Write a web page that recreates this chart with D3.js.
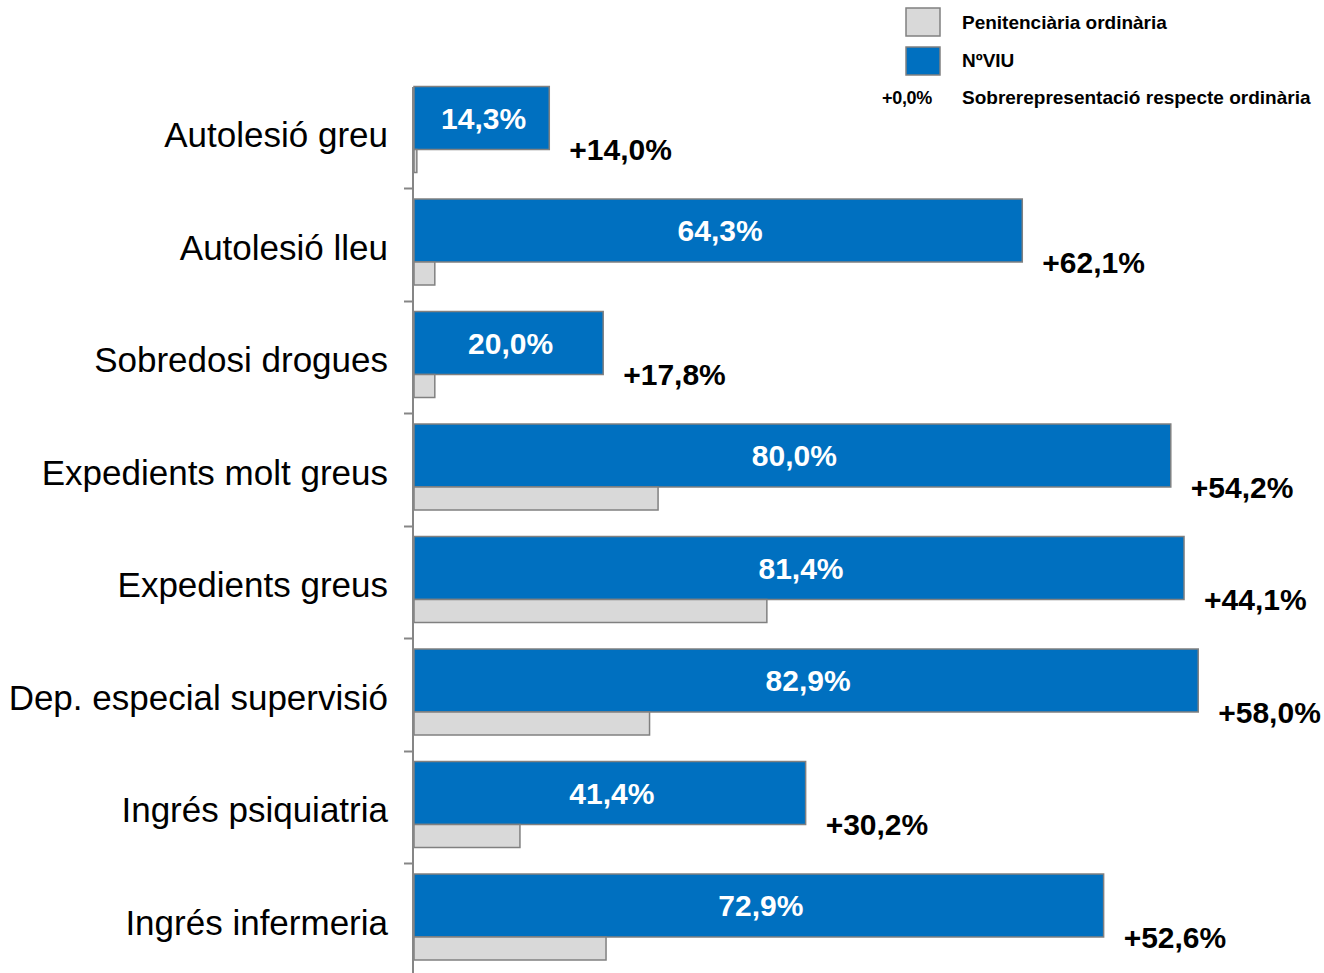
<!DOCTYPE html>
<html>
<head>
<meta charset="utf-8">
<script src="https://cdn.jsdelivr.net/npm/d3@7"></script>
<style>
  body { margin: 0; background: #fff; }
  svg { display: block; font-family: "Liberation Sans", Arial, sans-serif; }
</style>
</head>
<body>
<div id="chart"></div>
<script>
// data
const categories = ["Autolesió greu", "Autolesió lleu", "Sobredosi drogues", "Expedients molt greus",
  "Expedients greus", "Dep. especial supervisió", "Ingrés psiquiatria", "Ingrés infermeria"]
const nviu = [14.3, 64.3, 20.0, 80.0, 81.4, 82.9, 41.4, 72.9]
const ordinaria = [0.3, 2.2, 2.2, 25.8, 37.3, 24.9, 11.2, 20.3]
const diff = [14.0, 62.1, 17.8, 54.2, 44.1, 58.0, 30.2, 52.6]

const blue = "#0070c0"
const grey = "#d9d9d9"
const edge = "#808080"

const width = 1324, height = 973
const fmt = v => d3.format(".1f")(v).replace(".", ",")

const rows = categories.map((c, i) => ({cat: c, nviu: nviu[i], ord: ordinaria[i], diff: diff[i]}))

const svg = d3.select("#chart").append("svg").attr("width", width).attr("height", height)

const x = d3.scaleLinear().domain([0, 100]).range([414, 1360])
const y = d3.scaleBand().domain(categories).range([75.5, 975.5])

// blue bars (NºVIU)
svg.append("g").selectAll("rect").data(rows).join("rect")
  .attr("x", x(0))
  .attr("y", d => y(d.cat) + 11)
  .attr("width", d => x(d.nviu) - x(0))
  .attr("height", 63)
  .attr("fill", blue)
  .attr("stroke", edge)
  .attr("stroke-width", 1.5)

// grey bars (ordinària)
svg.append("g").selectAll("rect").data(rows).join("rect")
  .attr("x", x(0))
  .attr("y", d => y(d.cat) + 74)
  .attr("width", d => x(d.ord) - x(0))
  .attr("height", 23)
  .attr("fill", grey)
  .attr("stroke", edge)
  .attr("stroke-width", 1.5)

// axis
svg.append("line")
  .attr("x1", 413).attr("x2", 413)
  .attr("y1", 87).attr("y2", height)
  .attr("stroke", "#868686").attr("stroke-width", 2)

svg.append("g").selectAll("line").data(categories.slice(1)).join("line")
  .attr("x1", 404).attr("x2", 413)
  .attr("y1", d => Math.round(y(d)) + 0.5).attr("y2", d => Math.round(y(d)) + 0.5)
  .attr("stroke", "#868686").attr("stroke-width", 2)

// category labels
svg.append("g").selectAll("text").data(rows).join("text")
  .attr("x", 388)
  .attr("y", d => y(d.cat) + y.bandwidth() / 2 + 3)
  .attr("text-anchor", "end")
  .attr("dominant-baseline", "central")
  .attr("font-size", 35)
  .attr("fill", "#000")
  .text(d => d.cat)

// values inside blue bars
svg.append("g").selectAll("text").data(rows).join("text")
  .attr("x", d => (x(0) + x(d.nviu)) / 2 + 2)
  .attr("y", d => y(d.cat) + 11 + 31.5)
  .attr("text-anchor", "middle")
  .attr("dominant-baseline", "central")
  .attr("font-size", 30)
  .attr("font-weight", "bold")
  .attr("fill", "#fff")
  .text(d => fmt(d.nviu) + "%")

// over-representation labels
svg.append("g").selectAll("text").data(rows).join("text")
  .attr("x", d => x(d.nviu) + 20)
  .attr("y", d => y(d.cat) + 74)
  .attr("dominant-baseline", "central")
  .attr("font-size", 30)
  .attr("font-weight", "bold")
  .attr("fill", "#000")
  .text(d => "+" + fmt(d.diff) + "%")

// legend
const legend = svg.append("g")
legend.append("rect").attr("x", 906).attr("y", 8).attr("width", 34).attr("height", 28)
  .attr("fill", grey).attr("stroke", edge).attr("stroke-width", 1.5)
legend.append("rect").attr("x", 906).attr("y", 47).attr("width", 34).attr("height", 28)
  .attr("fill", blue).attr("stroke", edge).attr("stroke-width", 1.5)
const legendText = [["Penitenciària ordinària", 22], ["NºVIU", 60], ["Sobrerepresentació respecte ordinària", 97]]
legend.selectAll("text.l").data(legendText).join("text")
  .attr("class", "l")
  .attr("x", 962)
  .attr("y", d => d[1])
  .attr("dominant-baseline", "central")
  .attr("font-size", 19)
  .attr("font-weight", "bold")
  .attr("fill", "#000")
  .text(d => d[0])
legend.append("text")
  .attr("x", 882).attr("y", 98)
  .attr("dominant-baseline", "central")
  .attr("font-size", 18)
  .attr("font-weight", "bold")
  .attr("letter-spacing", -0.3)
  .text("+" + fmt(0) + "%")
</script>
</body>
</html>
